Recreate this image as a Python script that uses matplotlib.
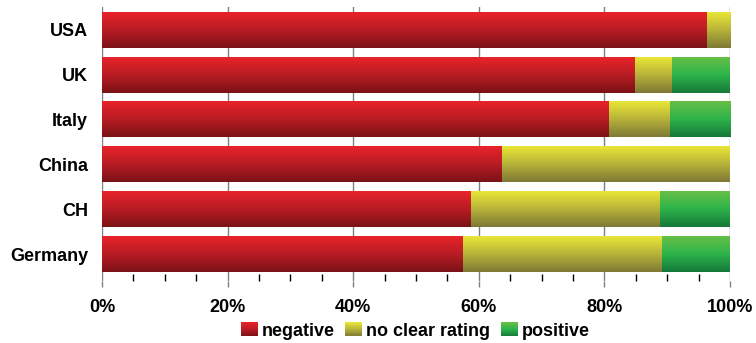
import numpy as np
import matplotlib
matplotlib.use("Agg")
import matplotlib.pyplot as plt
from matplotlib.patches import Rectangle
from matplotlib.legend_handler import HandlerBase
from matplotlib.colors import LinearSegmentedColormap, to_rgb
from matplotlib.ticker import MultipleLocator, FuncFormatter

plt.rcParams['font.family'] = ['Liberation Sans', 'DejaVu Sans']
plt.rcParams['font.weight'] = 'bold'

# ---- data (percent) ----
countries = ["USA", "UK", "Italy", "China", "CH", "Germany"]
negative = [96.3, 84.9, 80.7, 63.7, 58.8, 57.5]
no_clear = [3.7, 5.9, 9.7, 36.3, 30.1, 31.7]
positive = [0.0, 9.2, 9.6, 0.0, 11.1, 10.8]
series_names = ["negative", "no clear rating", "positive"]

# gradient stops: bottom -> top
grads = [
    ["#7A1216", "#B81C24", "#E8232A"],
    ["#7E7A36", "#B7B23A", "#E9E637"],
    ["#15793A", "#2DB34A", "#66BF47"],
]
cmaps = [LinearSegmentedColormap.from_list(f"g{i}", g) for i, g in enumerate(grads)]

fig = plt.figure(figsize=(7.56, 3.43), dpi=100)
ax = fig.add_axes([102/756, 1 - 281/343, 628/756, 274/343])

n = len(countries)
ypos = np.arange(n)[::-1]  # USA at top
bh = 0.80
grad = np.linspace(0, 1, 64).reshape(-1, 1)

for i in range(n):
    left = 0.0
    for s, vals in enumerate([negative, no_clear, positive]):
        w = vals[i]
        if w > 0:
            ax.imshow(grad, cmap=cmaps[s], origin='lower', aspect='auto',
                      extent=[left, left + w, ypos[i] - bh/2, ypos[i] + bh/2],
                      interpolation='bilinear', zorder=2)
        left += w

ax.set_xlim(0, 100)
ax.set_ylim(-0.6, n - 1 + 0.51)
ax.set_yticks(ypos)
ax.set_yticklabels(countries, fontsize=13, fontweight='bold')
ax.tick_params(axis='y', length=0, pad=10)

ax.xaxis.set_major_locator(MultipleLocator(20))
ax.xaxis.set_minor_locator(MultipleLocator(5))
ax.xaxis.set_major_formatter(FuncFormatter(lambda v, p: f"{int(round(v))}%"))
for lab in ax.get_xticklabels():
    lab.set_fontweight('bold')
ax.tick_params(axis='x', which='major', length=4, width=1, color='#808080',
               direction='out', pad=9, labelsize=13)
ax.tick_params(axis='x', which='minor', length=5, width=1, color='black',
               direction='in')
ax.grid(axis='x', which='major', color='#808080', linewidth=1, zorder=0)
ax.set_axisbelow(True)
for sp in ax.spines.values():
    sp.set_visible(False)


class GradHandler(HandlerBase):
    def __init__(self, cmap):
        super().__init__()
        self.cmap = cmap

    def create_artists(self, legend, orig_handle, xdescent, ydescent,
                       width, height, fontsize, trans):
        arts = []
        k = 24
        for j in range(k):
            c = self.cmap((j + 0.5) / k)
            r = Rectangle((-xdescent, -ydescent + j * height / k), width,
                          height / k * 1.05, facecolor=c, edgecolor='none',
                          transform=trans)
            arts.append(r)
        return arts


handles = [Rectangle((0, 0), 1, 1) for _ in series_names]
fig.legend(handles, series_names, loc='center', bbox_to_anchor=(415/756, 1 - 331/343),
           ncol=3, frameon=False, prop={'size': 13, 'weight': 'bold'},
           handler_map={h: GradHandler(cm) for h, cm in zip(handles, cmaps)},
           handlelength=0.95, handleheight=0.8, handletextpad=0.2,
           columnspacing=0.6, borderpad=0, borderaxespad=0)

fig.savefig("out.png", dpi=100)
